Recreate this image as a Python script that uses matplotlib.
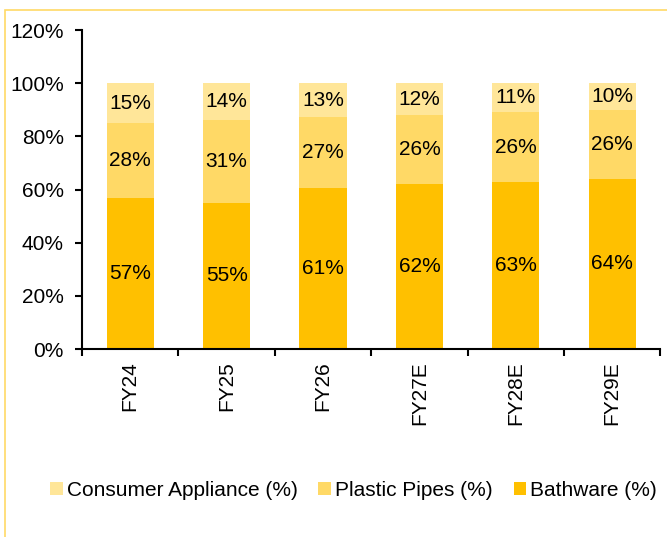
import matplotlib.pyplot as plt
import matplotlib.patches as mpatches
import numpy as np

plt.rcParams['font.family'] = ['Liberation Sans', 'DejaVu Sans']

# Data (share of revenue, %)
years = ['FY24', 'FY25', 'FY26', 'FY27E', 'FY28E', 'FY29E']
bathware = [57, 55, 60.6, 62, 63, 64]
plastic_pipes = [28, 31, 26.6, 26, 26, 26]
consumer_appliance = [15, 14, 12.8, 12, 11, 10]

colors = {'bath': '#FFC000', 'pipes': '#FFD966', 'ca': '#FFE699'}
fs = 15

fig = plt.figure(figsize=(6.67, 5.37), dpi=100)
ax = fig.add_axes([0.123, 0.35, 0.867, 0.594])

x = np.arange(len(years))
w = 0.49
b1 = ax.bar(x, bathware, w, color=colors['bath'], label='Bathware (%)')
b2 = ax.bar(x, plastic_pipes, w, bottom=bathware, color=colors['pipes'],
            label='Plastic Pipes (%)')
bottom3 = np.array(bathware) + np.array(plastic_pipes)
b3 = ax.bar(x, consumer_appliance, w, bottom=bottom3, color=colors['ca'],
            label='Consumer Appliance (%)')

for bars in (b1, b2, b3):
    ax.bar_label(bars, labels=[f'{v.get_height():.0f}%' for v in bars],
                 label_type='center', fontsize=fs)

ax.set_ylim(0, 120)
ax.set_yticks(range(0, 121, 20))
ax.set_yticklabels([f'{v}%' for v in range(0, 121, 20)], fontsize=fs)
ax.set_xlim(-0.5, len(years) - 0.5)
ax.set_xticks(x)
ax.set_xticklabels(years, rotation=90, fontsize=fs)
ax.tick_params(axis='x', length=0, pad=9)
ax.set_xticks(np.arange(-0.5, len(years), 1), minor=True)
ax.tick_params(axis='x', which='minor', length=5, width=1.5, direction='out')
ax.tick_params(axis='y', length=5, width=1.5, direction='out', pad=8)
for s in ['top', 'right']:
    ax.spines[s].set_visible(False)
for s in ['left', 'bottom']:
    ax.spines[s].set_linewidth(1.5)

handles = [b3, b2, b1]
fig.legend(handles, [h.get_label() for h in handles], loc='center',
           bbox_to_anchor=(0.53, 0.087), ncol=3, frameon=False, fontsize=fs,
           handlelength=0.6, handleheight=0.6, handletextpad=0.2,
           columnspacing=1.0)

# partial frame around the chart
fig.patches.append(mpatches.Rectangle((0.0075, -0.1), 1.2, 1.0814,
                                      transform=fig.transFigure,
                                      fill=False, edgecolor='#FFD966',
                                      linewidth=1.2))

fig.savefig('out.png', dpi=100)
